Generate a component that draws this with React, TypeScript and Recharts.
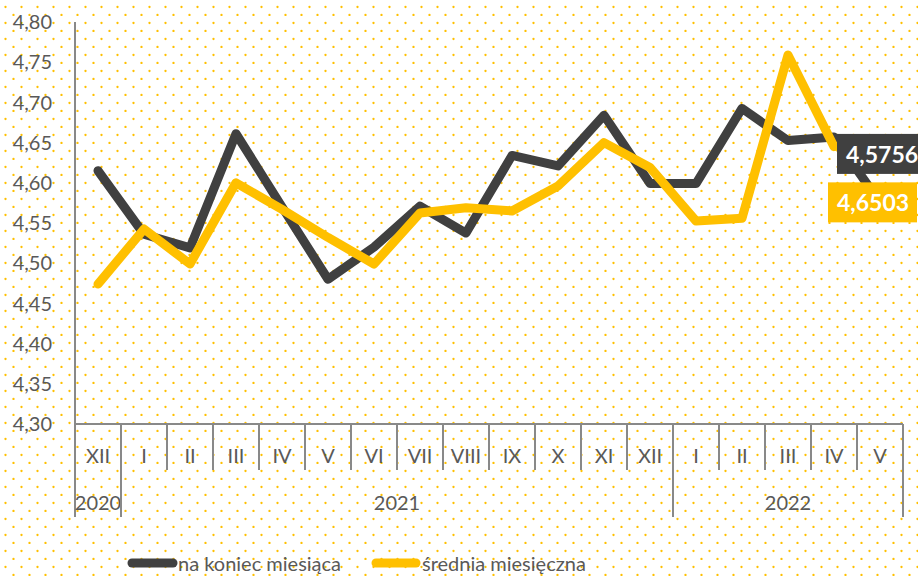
import React from 'react';
import { LineChart, Line, XAxis, YAxis, LabelList } from 'recharts';

const months = ['XII', 'I', 'II', 'III', 'IV', 'V', 'VI', 'VII', 'VIII', 'IX', 'X', 'XI', 'XII', 'I', 'II', 'III', 'IV', 'V'];
const years = ['2020', '2021', '2021', '2021', '2021', '2021', '2021', '2021', '2021', '2021', '2021', '2021', '2021', '2022', '2022', '2022', '2022', '2022'];
const naKoniec = [4.615, 4.536, 4.519, 4.661, 4.570, 4.480, 4.520, 4.571, 4.5375, 4.634, 4.621, 4.684, 4.599, 4.599, 4.6925, 4.6525, 4.657, 4.5756];
const srednia = [4.474, 4.5425, 4.499, 4.600, 4.567, 4.532, 4.499, 4.5625, 4.569, 4.565, 4.596, 4.650, 4.619, 4.5525, 4.556, 4.759, 4.645, 4.6503];
const yTicks = [4.3, 4.35, 4.4, 4.45, 4.5, 4.55, 4.6, 4.65, 4.7, 4.75, 4.8];
const seriesNames = ['na koniec miesiąca', 'średnia miesięczna'];

const data = months.map((m, i) => ({ m, year: years[i], dark: naKoniec[i], gold: srednia[i] }));

const W = 918;
const H = 576;
const LEFT = 75;
const RIGHT = 15;
const BAND = (W - LEFT - RIGHT) / months.length;
const FONT = 'Lato, "Open Sans", sans-serif';
const TEXT = '#595959';
const AXIS = '#898989';
const DARK = '#404040';
const GOLD = '#FFC000';

const fmt = (v: number, d = 2) => v.toFixed(d).replace('.', ',');

const XTick = (props: any) => {
  const { x, y, index } = props;
  const i = index;
  const left = x - BAND / 2;
  const right = x + BAND / 2;
  const els: any[] = [];
  els.push(<line key="ms" x1={left} y1={y} x2={left} y2={y + 46} stroke={AXIS} strokeWidth={2} />);
  if (i === months.length - 1) {
    els.push(<line key="me" x1={right} y1={y} x2={right} y2={y + 93} stroke={AXIS} strokeWidth={2} />);
  }
  if (i === 0 || years[i] !== years[i - 1]) {
    let count = 0;
    for (let j = i; j < years.length && years[j] === years[i]; j++) count++;
    els.push(<line key="ys" x1={left} y1={y} x2={left} y2={y + 93} stroke={AXIS} strokeWidth={2} />);
    els.push(
      <text key="yl" x={left + (count * BAND) / 2} y={y + 78} textAnchor="middle" dominantBaseline="central" fill={TEXT} fontSize={20} fontFamily={FONT}>
        {years[i]}
      </text>
    );
  }
  els.push(
    <text key="ml" x={x} y={y + 31} textAnchor="middle" dominantBaseline="central" fill={TEXT} fontSize={20} fontFamily={FONT}>
      {months[i]}
    </text>
  );
  return <g>{els}</g>;
};

const darkLabel = (props: any) => {
  const { x, y, value, index } = props;
  if (index !== months.length - 1) return null;
  return (
    <g>
      <rect x={x - 43} y={y - 68.5} width={95} height={40} fill={DARK} />
      <text x={x - 34} y={y - 48.5} dominantBaseline="central" fill="#FFFFFF" fontSize={23} fontWeight="bold" fontFamily={FONT}>
        {fmt(value, 4)}
      </text>
    </g>
  );
};

const goldLabel = (props: any) => {
  const { x, y, value, index } = props;
  if (index !== months.length - 1) return null;
  return (
    <g>
      <rect x={x - 52} y={y + 40} width={89} height={40} fill={GOLD} />
      <text x={x - 43} y={y + 60} dominantBaseline="central" fill="#FFFFFF" fontSize={23} fontWeight="bold" fontFamily={FONT}>
        {fmt(value, 4)}
      </text>
    </g>
  );
};

export default function App() {
  return (
    <div style={{ position: 'absolute', left: 0, top: 0, width: W, height: H, background: '#FFFFFF', overflow: 'hidden' }}>
      <svg width={W} height={H} style={{ position: 'absolute', left: 0, top: 0 }}>
        <defs>
          <pattern id="dots" patternUnits="userSpaceOnUse" width={16} height={16}>
            <circle cx={5.5} cy={7} r={1.15} fill={GOLD} />
            <circle cx={13.5} cy={15} r={1.15} fill={GOLD} />
          </pattern>
        </defs>
        <rect x={0} y={0} width={W} height={H} fill="url(#dots)" />
      </svg>
      <div style={{ position: 'absolute', left: 0, top: 0 }}>
        <LineChart width={W} height={H} data={data} margin={{ top: 22, right: RIGHT, bottom: 0, left: 0 }}>
          <XAxis
            dataKey="m"
            height={152}
            tickLine={false}
            tickSize={0}
            tickMargin={0}
            interval={0}
            padding={{ left: BAND / 2, right: BAND / 2 }}
            axisLine={{ stroke: AXIS, strokeWidth: 2 }}
            tick={<XTick />}
          />
          <YAxis
            width={LEFT}
            domain={[4.3, 4.8]}
            ticks={yTicks}
            interval={0}
            tickLine={false}
            tickSize={0}
            tickMargin={23}
            axisLine={{ stroke: AXIS, strokeWidth: 2 }}
            tickFormatter={(v: number) => fmt(v)}
            tick={{ fill: TEXT, fontSize: 20, fontFamily: FONT }}
          />
          <Line dataKey="dark" name={seriesNames[0]} stroke={DARK} strokeWidth={9} dot={false} isAnimationActive={false} strokeLinejoin="round" strokeLinecap="round">
            <LabelList dataKey="dark" content={darkLabel} />
          </Line>
          <Line dataKey="gold" name={seriesNames[1]} stroke={GOLD} strokeWidth={9} dot={false} isAnimationActive={false} strokeLinejoin="round" strokeLinecap="round">
            <LabelList dataKey="gold" content={goldLabel} />
          </Line>
        </LineChart>
      </div>
      <svg width={W} height={40} style={{ position: 'absolute', left: 0, top: 542 }}>
        <line x1={132} y1={21} x2={173} y2={21} stroke={DARK} strokeWidth={9} strokeLinecap="round" />
        <text x={178} y={21} dominantBaseline="central" fill={TEXT} fontSize={20} fontFamily={FONT}>{seriesNames[0]}</text>
        <line x1={376} y1={21} x2={416} y2={21} stroke={GOLD} strokeWidth={9} strokeLinecap="round" />
        <text x={422} y={21} dominantBaseline="central" fill={TEXT} fontSize={20} fontFamily={FONT}>{seriesNames[1]}</text>
      </svg>
    </div>
  );
}
